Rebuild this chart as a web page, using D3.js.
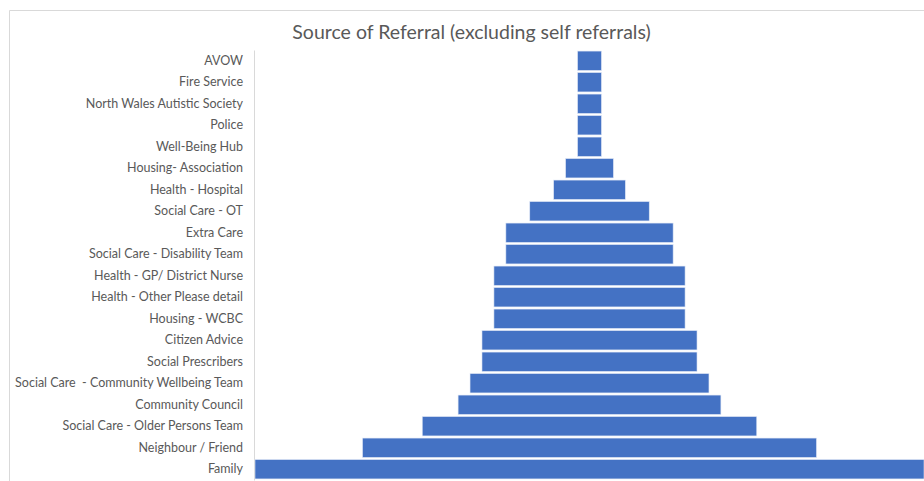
<!DOCTYPE html>
<html>
<head>
<meta charset="utf-8">
<script src="https://cdn.jsdelivr.net/npm/d3@7"></script>
<style>
  body { margin: 0; background: #fff; }
  text { font-family: Lato, "Open Sans", sans-serif; fill: #595959; white-space: pre; }
</style>
</head>
<body>
<div id="vis"></div>
<script>
var sources = ["AVOW", "Fire Service", "North Wales Autistic Society", "Police", "Well-Being Hub",
    "Housing- Association", "Health - Hospital", "Social Care - OT", "Extra Care",
    "Social Care - Disability Team", "Health - GP/ District Nurse", "Health - Other Please detail",
    "Housing - WCBC", "Citizen Advice", "Social Prescribers", "Social Care  - Community Wellbeing Team",
    "Community Council", "Social Care - Older Persons Team", "Neighbour / Friend", "Family"];

var referrals = [1, 1, 1, 1, 1, 2, 3, 5, 7, 7, 8, 8, 8, 9, 9, 10, 11, 14, 19, 28];

var title = "Source of Referral (excluding self referrals)";

var width = 924, height = 481;
var plot = { left: 255, right: 924, top: 50, bottom: 480 };
var cx = (plot.left + plot.right) / 2;

var svg = d3.select("#vis")
    .append("svg")
    .attr("width", width)
    .attr("height", height);

var data = sources.map((s, i) => ({ source: s, value: referrals[i] }));

// chart frame (right side runs off the picture)
svg.append("path")
    .attr("d", "M9.5," + height + "V10.5H" + width)
    .attr("fill", "none")
    .attr("stroke", "#d9d9d9");

svg.append("text")
    .attr("x", 471.5)
    .attr("y", 38.5)
    .attr("text-anchor", "middle")
    .style("font-size", "19.5px")
    .text(title);

var y = d3.scaleBand()
    .domain(sources)
    .range([plot.top, plot.bottom])
    .paddingInner(0.1)
    .paddingOuter(0.05);

var x = d3.scaleLinear()
    .domain([0, d3.max(referrals)])
    .range([0, plot.right - plot.left]);

var yAxis = d3.axisLeft(y).tickSize(0).tickPadding(11);

var gy = svg.append("g")
    .attr("transform", "translate(" + (plot.left - 1) + ",0)")
    .call(yAxis);
gy.select(".domain").attr("stroke", "#d9d9d9");
gy.selectAll("text")
    .style("font-size", "12.5px")
    .style("font-family", "Lato, sans-serif")
    .attr("fill", "#595959");

svg.append("g")
    .selectAll("rect")
    .data(data)
    .enter()
    .append("rect")
    .attr("x", d => cx - x(d.value) / 2)
    .attr("y", d => y(d.source))
    .attr("width", d => x(d.value))
    .attr("height", y.bandwidth())
    .attr("fill", "#4472c4")
    .attr("stroke", "#dfe7f5")
    .attr("stroke-width", 0.6);
</script>
</body>
</html>
